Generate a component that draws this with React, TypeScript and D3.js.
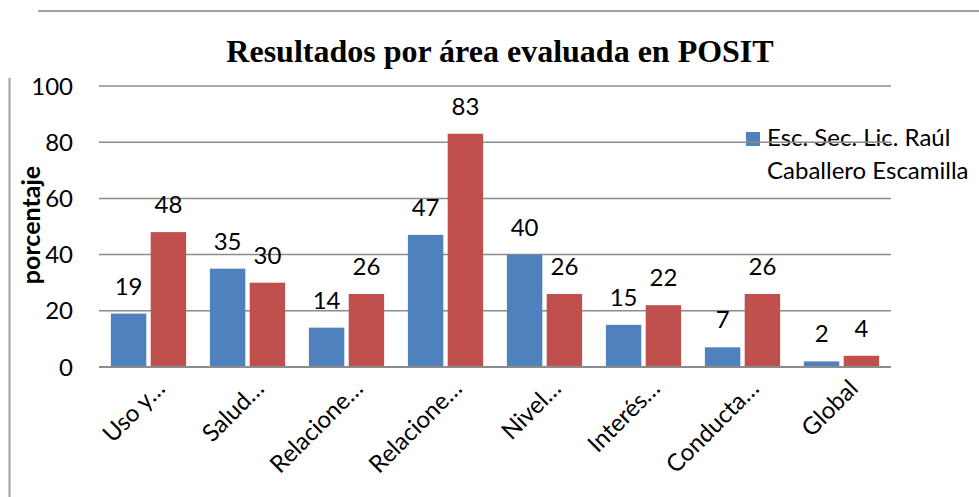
import { useEffect, useRef } from 'react';
import * as d3 from 'd3';

const categories = [
  'Uso y…',
  'Salud…',
  'Relacione…',
  'Relacione…',
  'Nivel…',
  'Interés…',
  'Conducta…',
  'Global',
];
const escuelaValues = [19, 35, 14, 47, 40, 15, 7, 2];
const referenciaValues = [48, 30, 26, 83, 26, 22, 26, 4];
const yTicks = [0, 20, 40, 60, 80, 100];

const seriesNames = ['Esc. Sec. Lic. Raúl', 'Caballero Escamilla'];
const blue = '#4F81BD';
const red = '#C0504D';

const W = 979;
const H = 497;
const plot = { left: 99, right: 891, top: 86, bottom: 367 };
const sans = 'Lato, "Open Sans", sans-serif';

export default function App() {
  const svgRef = useRef<SVGSVGElement>(null);

  useEffect(() => {
    if (!svgRef.current) return;
    const svg = d3.select(svgRef.current);
    svg.selectAll('*').remove();

    svg.append('rect').attr('width', W).attr('height', H).attr('fill', '#fff');

    // page decoration lines
    svg.append('line')
      .attr('x1', 38).attr('x2', W).attr('y1', 11).attr('y2', 11)
      .attr('stroke', '#a0a0a0').attr('stroke-width', 2);
    svg.append('line')
      .attr('x1', 9.5).attr('x2', 9.5).attr('y1', 78).attr('y2', H)
      .attr('stroke', '#a0a0a0').attr('stroke-width', 2);

    const x0 = d3.scaleBand<number>()
      .domain(d3.range(categories.length))
      .range([plot.left, plot.right])
      .paddingInner(0.24)
      .paddingOuter(0.12);
    const x1 = d3.scaleBand<number>()
      .domain([0, 1])
      .range([0, x0.bandwidth()])
      .paddingInner(0.11);
    const y = d3.scaleLinear().domain([0, 100]).range([plot.bottom, plot.top]);

    // title
    svg.append('text')
      .attr('x', 500).attr('y', 62)
      .attr('text-anchor', 'middle')
      .attr('font-family', '"Liberation Serif", "Times New Roman", serif')
      .attr('font-weight', 'bold')
      .attr('font-size', 32)
      .text('Resultados por área evaluada en POSIT');

    // legend (drawn below gridlines, as in the original)
    const leg = svg.append('g');
    leg.append('rect')
      .attr('x', 746).attr('y', 132).attr('width', 14).attr('height', 14)
      .attr('fill', blue);
    seriesNames.forEach((t, i) => {
      leg.append('text')
        .attr('x', 767).attr('y', 146 + i * 33)
        .attr('font-family', sans)
        .attr('font-size', 24)
        .attr('fill', '#000')
        .text(t);
    });

    // gridlines
    svg.append('g')
      .selectAll('line')
      .data(yTicks.filter((t) => t > 0))
      .join('line')
      .attr('x1', plot.left).attr('x2', plot.right)
      .attr('y1', (d) => y(d)).attr('y2', (d) => y(d))
      .attr('stroke', '#8c8c8c').attr('stroke-width', 1.5);

    // y tick labels
    svg.append('g')
      .selectAll('text')
      .data(yTicks)
      .join('text')
      .attr('x', 73).attr('y', (d) => y(d))
      .attr('dy', '0.36em')
      .attr('text-anchor', 'end')
      .attr('font-family', sans)
      .attr('font-size', 24)
      .text((d) => String(d));

    // y axis title
    svg.append('text')
      .attr('transform', 'translate(31,225) rotate(-90)')
      .attr('text-anchor', 'middle')
      .attr('dy', '0.35em')
      .attr('font-family', sans)
      .attr('font-weight', 'bold')
      .attr('font-size', 25)
      .text('porcentaje');

    const allSeries = [
      { values: escuelaValues, color: blue },
      { values: referenciaValues, color: red },
    ];

    allSeries.forEach((s, si) => {
      const g = svg.append('g');
      g.selectAll('rect')
        .data(s.values)
        .join('rect')
        .attr('x', (_, i) => (x0(i) ?? 0) + (x1(si) ?? 0))
        .attr('y', (d) => y(d))
        .attr('width', x1.bandwidth())
        .attr('height', (d) => plot.bottom - y(d))
        .attr('fill', s.color);
      g.selectAll('text')
        .data(s.values)
        .join('text')
        .attr('x', (_, i) => (x0(i) ?? 0) + (x1(si) ?? 0) + x1.bandwidth() / 2)
        .attr('y', (d) => y(d) - 19)
        .attr('text-anchor', 'middle')
        .attr('font-family', sans)
        .attr('font-size', 24)
        .text((d) => String(d));
    });

    // baseline
    svg.append('line')
      .attr('x1', plot.left).attr('x2', plot.right)
      .attr('y1', plot.bottom).attr('y2', plot.bottom)
      .attr('stroke', '#8c8c8c').attr('stroke-width', 2);

    // x labels
    const step = (plot.right - plot.left) / categories.length;
    svg.append('g')
      .selectAll('text')
      .data(categories)
      .join('text')
      .attr('transform', (_, i) => {
        const cx = plot.left + step * (i + 0.5) + 18;
        return `translate(${cx},390) rotate(-45)`;
      })
      .attr('text-anchor', 'end')
      .attr('font-family', sans)
      .attr('font-size', 24)
      .text((d) => d);
  }, []);

  return (
    <svg
      ref={svgRef}
      width={W}
      height={H}
      style={{ position: 'absolute', left: 0, top: 0, display: 'block' }}
    />
  );
}
